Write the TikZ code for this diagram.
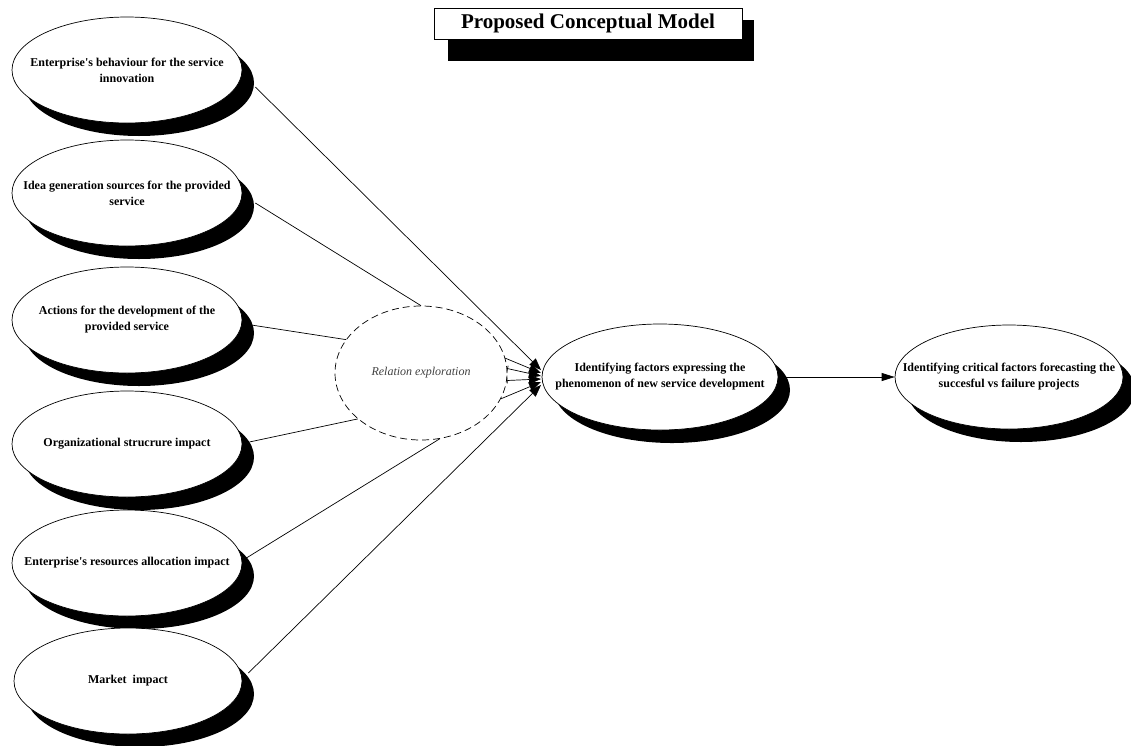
\documentclass[tikz,border=0pt]{standalone}
\usepackage{fontspec}
\setmainfont{Liberation Serif}
\usetikzlibrary{shapes.geometric,shadows,arrows.meta,calc}
\pgfdeclarelayer{background}
\pgfsetlayers{background,main}
\begin{document}
\begin{tikzpicture}[x=1pt,y=-1pt,
  ell/.style={ellipse, draw, line width=0.7pt, fill=white, minimum width=230pt, minimum height=106pt,
    inner sep=0pt,
    drop shadow={shadow xshift=12pt, shadow yshift=-13pt, fill=black, opacity=1}},
  etext/.style={align=center, inner sep=0pt, font=\bfseries\fontsize{12}{16}\selectfont},
  conn/.style={line width=0.7pt},
  arr/.style={line width=0.7pt, -{Triangle[length=12pt,width=9pt]}}]
\useasboundingbox (0,0) rectangle (1131,745);

% title
\node[draw, line width=0.7pt, fill=white, minimum width=308pt, minimum height=31pt, inner sep=0pt,
  font=\bfseries\fontsize{21}{24}\selectfont] (title) at (588,23.5) {Proposed Conceptual Model};

% left ellipses
\node[ell] (e1) at (127,70)  {};
\node[etext] (e1t) at (e1) {Enterprise\textquotesingle s behaviour for the service\\innovation};
\node[ell] (e2) at (127,193) {};
\node[etext] (e2t) at (e2) {Idea generation sources for the provided\\service};
\node[ell] (e3) at (127,320) {};
\node[etext] (e3t) at (e3) {Actions for the development of the\\provided service};
\node[ell] (e4) at (127,444) {};
\node[etext] (e4t) at (e4) {Organizational strucrure impact};
\node[ell] (e5) at (127,563) {};
\node[etext] (e5t) at (e5) {Enterprise\textquotesingle s resources allocation impact};
\node[ell, minimum width=228pt] (e6) at (128,681) {};
\node[etext] (e6t) at (e6) {Market~~impact};

% relation exploration
\node[ellipse, draw, dash pattern=on 7pt off 4pt, line width=0.7pt, minimum width=172pt, minimum height=134pt,
  inner sep=0pt] (d) at (421,373) {};
\node[inner sep=0pt, font=\itshape\fontsize{12}{14}\selectfont, text=black!75] (dt) at (d) {Relation exploration};

% middle and right ellipses
\node[ell, minimum width=236pt] (m) at (660,377) {};
\node[etext] (mt) at (m) {Identifying factors expressing the\\phenomenon of new service development};
\node[ell, minimum width=228pt, minimum height=104pt] (r) at (1009,377) {};
\node[etext] (rt) at (r) {Identifying critical factors forecasting the\\succesful vs failure projects};

% connector start points on the shadow edges
\coordinate (s1) at ($(e1.east)+(13,17)$);
\coordinate (s2) at ($(e2.east)+(13,10)$);
\coordinate (s3) at ($(e3.east)+(9,5)$);
\coordinate (s4) at ($(e4.east)+(7,-2)$);
\coordinate (s5) at ($(e5.east)+(4,-5)$);
\coordinate (s6) at ($(e6.east)+(6,-8)$);

% arrow tips near m
\coordinate (t1) at (541,370);
\coordinate (t2) at (541,373);
\coordinate (t3) at (541,376);
\coordinate (t4) at (541,379);
\coordinate (t5) at (541,382);
\coordinate (t6) at (541,385);

\begin{pgfonlayer}{background}
  \fill ($(title.north west)+(14,12)$) rectangle ($(title.south east)+(12,22)$);
\end{pgfonlayer}

\draw[arr] (s1) -- (t1);
\draw[conn] (s2) -- (d.north);
\draw[conn] (s3) -- (d.156);
\draw[conn] (s4) -- (d.216);
\draw[conn] (s5) -- (d.286);
\draw[arr] (s6) -- (t6);

\draw[arr] (d.10) -- (t2);
\draw[line width=0.7pt, {Bar[width=6pt]}-{Triangle[length=12pt,width=9pt]}] (d.3) -- (t3);
\draw[line width=0.7pt, {Bar[width=6pt]}-{Triangle[length=12pt,width=9pt]}] (d.-5) -- (t4);
\draw[arr] (d.-18) -- (t5);

\draw[line width=0.7pt, -{Triangle[length=13pt,width=8pt]}] (m.east) -- (r.west);
\end{tikzpicture}
\end{document}
